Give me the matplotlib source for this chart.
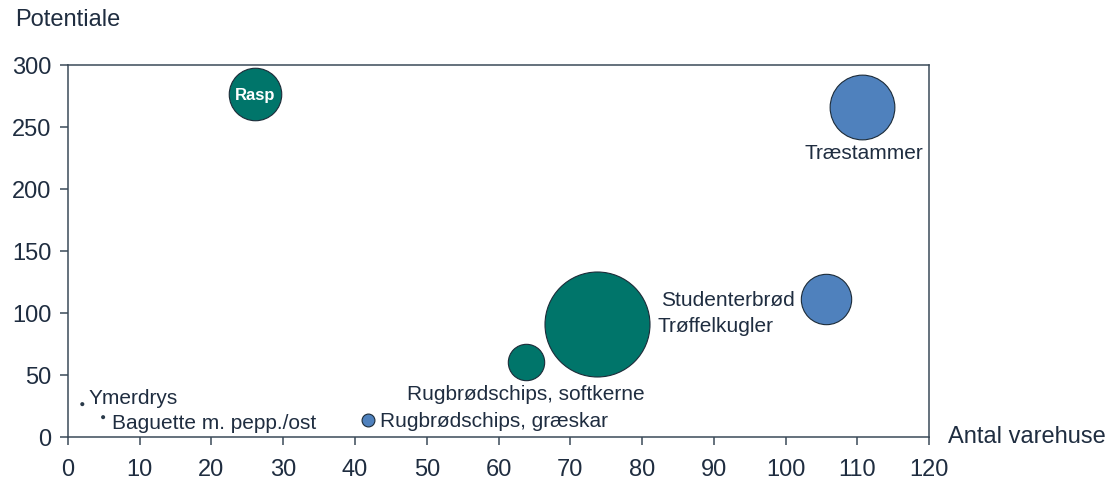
import matplotlib.pyplot as plt

plt.rcParams['font.family'] = ['Liberation Sans', 'DejaVu Sans']

# data
products = ['Rasp', 'Træstammer', 'Studenterbrød', 'Trøffelkugler',
            'Rugbrødschips, softkerne', 'Rugbrødschips, græskar',
            'Ymerdrys', 'Baguette m. pepp./ost']
warehouses = [26.1, 110.7, 105.6, 73.7, 63.8, 41.8, 2.0, 4.9]
potential = [276.5, 266, 111, 91, 60.5, 13.7, 26.5, 16]
bubble_size = [25, 38, 23, 100, 12, 1.5, 0.15, 0.15]
group = ['green', 'blue', 'blue', 'green', 'green', 'blue', 'dot', 'dot']

COLORS = {'green': '#00756a', 'blue': '#4f81bd', 'dot': '#2a3a4a'}
TEXT_COLOR = '#1f2d40'
AXIS_COLOR = '#3b4a58'

# label offsets in points, and alignment
LABELS = {
    'Rasp': ((0, 0), 'center', 'center'),
    'Træstammer': ((1.4, -32.5), 'center', 'center'),
    'Studenterbrød': ((-22, 0), 'right', 'center'),
    'Trøffelkugler': ((44, -0.7), 'left', 'center'),
    'Rugbrødschips, softkerne': ((0, -23), 'center', 'center'),
    'Rugbrødschips, græskar': ((8.6, -0.7), 'left', 'center'),
    'Ymerdrys': ((4.3, 5), 'left', 'center'),
    'Baguette m. pepp./ost': ((6.5, -3.6), 'left', 'center'),
}

fig = plt.figure(figsize=(11.14, 4.81), dpi=100)
ax = fig.add_axes([0.061, 0.0894, 0.773, 0.7734])

sizes = [s * 57.15 for s in bubble_size]
for x, y, s, g in zip(warehouses, potential, sizes, group):
    ax.scatter(x, y, s=s, color=COLORS[g], edgecolors='#1c2b38' if g != 'dot' else 'none',
               linewidths=0.8, zorder=3)

for name, x, y in zip(products, warehouses, potential):
    (dx, dy), ha, va = LABELS[name]
    if name == 'Rasp':
        ax.annotate(name, (x, y), xytext=(dx, dy), textcoords='offset points',
                    ha=ha, va=va, color='white', fontsize=12, fontweight='bold', zorder=4)
    else:
        ax.annotate(name, (x, y), xytext=(dx, dy), textcoords='offset points',
                    ha=ha, va=va, color=TEXT_COLOR, fontsize=15, zorder=4)

ax.set_xlim(0, 120)
ax.set_ylim(0, 300)
ax.set_xticks(range(0, 121, 10))
ax.set_yticks(range(0, 301, 50))
ax.tick_params(axis='both', direction='out', length=6, width=1.1, color=AXIS_COLOR,
               labelsize=17, labelcolor=TEXT_COLOR)
ax.tick_params(axis='x', pad=9)
ax.tick_params(axis='y', pad=6)
for sp in ax.spines.values():
    sp.set_color(AXIS_COLOR)
    sp.set_linewidth(1.1)

fig.text(15 / 1114, 1 - 20 / 481, 'Potentiale', ha='left', va='center',
         fontsize=17, color=TEXT_COLOR)
fig.text(948 / 1114, 1 - 437 / 481, 'Antal varehuse', ha='left', va='center',
         fontsize=17, color=TEXT_COLOR)

fig.savefig('out.png', dpi=100)
